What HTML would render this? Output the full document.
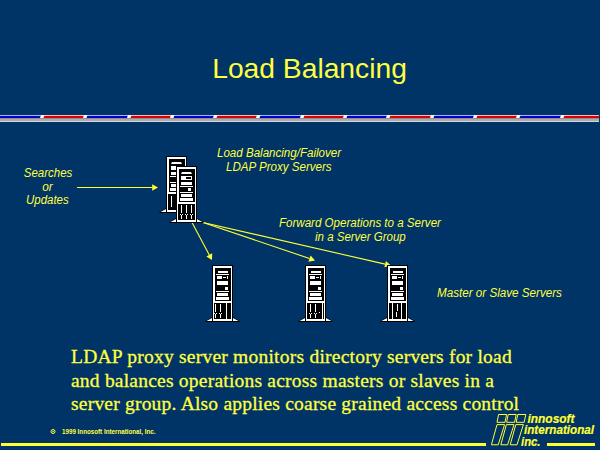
<!DOCTYPE html>
<html><head><meta charset="utf-8"><title>Load Balancing</title>
<style>html,body{margin:0;padding:0;background:#003366;width:600px;height:450px;overflow:hidden}svg{display:block}</style>
</head><body>
<svg width="600" height="450" viewBox="0 0 600 450">
<rect width="600" height="450" fill="#003366"/>
<text x="212.2" y="78" textLength="194.67" lengthAdjust="spacingAndGlyphs" font-family="Liberation Sans" font-size="28" fill="#ffff40">Load Balancing</text>
<rect x="0" y="118" width="599" height="1" fill="#909090"/>
<rect x="0" y="119" width="599" height="2" fill="#acacac"/>
<rect x="0" y="121" width="599" height="1" fill="#d4d8dc"/>
<rect x="0.0" y="116" width="42.0" height="2" fill="#0000c8"/>
<rect x="0.0" y="115" width="42.0" height="1" fill="#a8b0ff"/>
<rect x="42.0" y="116" width="43.0" height="2" fill="#d80000"/>
<rect x="42.0" y="115" width="43.0" height="1" fill="#ffb8b8"/>
<rect x="85.0" y="116" width="44.0" height="2" fill="#0000c8"/>
<rect x="85.0" y="115" width="44.0" height="1" fill="#a8b0ff"/>
<rect x="129.0" y="116" width="43.0" height="2" fill="#d80000"/>
<rect x="129.0" y="115" width="43.0" height="1" fill="#ffb8b8"/>
<rect x="172.0" y="116" width="43.0" height="2" fill="#0000c8"/>
<rect x="172.0" y="115" width="43.0" height="1" fill="#a8b0ff"/>
<rect x="215.0" y="116" width="43.0" height="2" fill="#d80000"/>
<rect x="215.0" y="115" width="43.0" height="1" fill="#ffb8b8"/>
<rect x="258.0" y="116" width="44.0" height="2" fill="#0000c8"/>
<rect x="258.0" y="115" width="44.0" height="1" fill="#a8b0ff"/>
<rect x="302.0" y="116" width="43.0" height="2" fill="#d80000"/>
<rect x="302.0" y="115" width="43.0" height="1" fill="#ffb8b8"/>
<rect x="345.0" y="116" width="43.0" height="2" fill="#0000c8"/>
<rect x="345.0" y="115" width="43.0" height="1" fill="#a8b0ff"/>
<rect x="388.0" y="116" width="44.0" height="2" fill="#d80000"/>
<rect x="388.0" y="115" width="44.0" height="1" fill="#ffb8b8"/>
<rect x="432.0" y="116" width="43.0" height="2" fill="#0000c8"/>
<rect x="432.0" y="115" width="43.0" height="1" fill="#a8b0ff"/>
<rect x="475.0" y="116" width="43.0" height="2" fill="#d80000"/>
<rect x="475.0" y="115" width="43.0" height="1" fill="#ffb8b8"/>
<rect x="518.0" y="116" width="44.0" height="2" fill="#0000c8"/>
<rect x="518.0" y="115" width="44.0" height="1" fill="#a8b0ff"/>
<rect x="562.0" y="116" width="37.0" height="2" fill="#d80000"/>
<rect x="562.0" y="115" width="37.0" height="1" fill="#ffb8b8"/>
<polygon points="40.0,118 41.0,115 44.5,115 43.5,118" fill="#ffffff"/>
<polygon points="83.0,118 84.0,115 87.5,115 86.5,118" fill="#ffffff"/>
<polygon points="127.0,118 128.0,115 131.5,115 130.5,118" fill="#ffffff"/>
<polygon points="170.0,118 171.0,115 174.5,115 173.5,118" fill="#ffffff"/>
<polygon points="213.0,118 214.0,115 217.5,115 216.5,118" fill="#ffffff"/>
<polygon points="256.0,118 257.0,115 260.5,115 259.5,118" fill="#ffffff"/>
<polygon points="300.0,118 301.0,115 304.5,115 303.5,118" fill="#ffffff"/>
<polygon points="343.0,118 344.0,115 347.5,115 346.5,118" fill="#ffffff"/>
<polygon points="386.0,118 387.0,115 390.5,115 389.5,118" fill="#ffffff"/>
<polygon points="430.0,118 431.0,115 434.5,115 433.5,118" fill="#ffffff"/>
<polygon points="473.0,118 474.0,115 477.5,115 476.5,118" fill="#ffffff"/>
<polygon points="516.0,118 517.0,115 520.5,115 519.5,118" fill="#ffffff"/>
<polygon points="560.0,118 561.0,115 564.5,115 563.5,118" fill="#ffffff"/>
<text x="217" y="157" textLength="124.0" lengthAdjust="spacingAndGlyphs" font-family="Liberation Sans" font-style="italic" font-size="12" fill="#ffff40">Load Balancing/Failover</text>
<text x="226" y="170.7" textLength="105.59" lengthAdjust="spacingAndGlyphs" font-family="Liberation Sans" font-style="italic" font-size="12" fill="#ffff40">LDAP Proxy Servers</text>
<text x="23.8" y="177.1" textLength="48.48" lengthAdjust="spacingAndGlyphs" font-family="Liberation Sans" font-style="italic" font-size="12" fill="#ffff40">Searches</text>
<text x="42.2" y="191.2" textLength="10.5" lengthAdjust="spacingAndGlyphs" font-family="Liberation Sans" font-style="italic" font-size="12" fill="#ffff40">or</text>
<text x="26" y="204.3" textLength="42.67" lengthAdjust="spacingAndGlyphs" font-family="Liberation Sans" font-style="italic" font-size="12" fill="#ffff40">Updates</text>
<text x="279" y="227" textLength="161.92" lengthAdjust="spacingAndGlyphs" font-family="Liberation Sans" font-style="italic" font-size="12" fill="#ffff40">Forward Operations to a Server</text>
<text x="315" y="240.75" textLength="90.73" lengthAdjust="spacingAndGlyphs" font-family="Liberation Sans" font-style="italic" font-size="12" fill="#ffff40">in a Server Group</text>
<text x="437" y="296.5" textLength="124.93" lengthAdjust="spacingAndGlyphs" font-family="Liberation Sans" font-style="italic" font-size="12" fill="#ffff40">Master or Slave Servers</text>
<line x1="77" y1="187.5" x2="152.2" y2="187.5" stroke="#ffff33" stroke-width="1.1"/><polygon points="158.0,187.5 152.2,190.8 152.2,184.2" fill="#ffff33"/>
<line x1="192" y1="222.5" x2="209.3" y2="254.9" stroke="#ffff33" stroke-width="1.1"/><polygon points="212.0,260.0 206.4,256.4 212.2,253.3" fill="#ffff33"/>
<line x1="203" y1="222.5" x2="309.5" y2="258.5" stroke="#ffff33" stroke-width="1.1"/><polygon points="315.0,260.4 308.4,261.7 310.6,255.4" fill="#ffff33"/>
<line x1="203" y1="222.5" x2="385.1" y2="264.1" stroke="#ffff33" stroke-width="1.1"/><polygon points="390.8,265.4 384.4,267.3 385.9,260.9" fill="#ffff33"/>
<g transform="translate(167,157)">
<polygon points="0,50.5 -7.5,55 -7.5,56 0,56" fill="#000"/>
<polygon points="19,50.5 26.5,55 26.5,56 19,56" fill="#000"/>
<polygon points="0,51.5 -6.5,55 0,55" fill="#fff"/>
<polygon points="19,51.5 25.5,55 19,55" fill="#fff"/>
<rect x="-1" y="-1" width="21" height="57" fill="#000"/>
<rect x="0" y="0" width="19" height="55" fill="#fff"/>
<rect x="2" y="2" width="16" height="33" fill="#000"/>
<polygon points="4,7 5,5 14,5 15,7" fill="#fff"/>
<rect x="4" y="9" width="11" height="4" fill="#fff"/>
<rect x="9" y="10" width="5" height="2" fill="#000"/>
<rect x="4" y="15" width="11" height="3" fill="#fff"/>
<rect x="3" y="19" width="13" height="1" fill="#fff"/>
<rect x="11" y="21" width="3" height="3" fill="#fff"/>
<rect x="3" y="25" width="13" height="1" fill="#fff"/>
<rect x="4" y="27" width="11" height="3" fill="#fff"/>
<rect x="3" y="31" width="13" height="3" fill="#fff"/>
<rect x="1" y="37" width="12" height="16" fill="#000"/>
<rect x="4" y="39" width="1" height="11" fill="#fff"/>
</g>
<g transform="translate(177,167)">
<polygon points="0,50.5 -7.5,55 -7.5,56 0,56" fill="#000"/>
<polygon points="19,50.5 26.5,55 26.5,56 19,56" fill="#000"/>
<polygon points="0,51.5 -6.5,55 0,55" fill="#fff"/>
<polygon points="19,51.5 25.5,55 19,55" fill="#fff"/>
<rect x="-1" y="-1" width="21" height="57" fill="#000"/>
<rect x="0" y="0" width="19" height="55" fill="#fff"/>
<rect x="2" y="2" width="16" height="33" fill="#000"/>
<polygon points="4,7 5,5 14,5 15,7" fill="#fff"/>
<rect x="4" y="9" width="11" height="4" fill="#fff"/>
<rect x="9" y="10" width="5" height="2" fill="#000"/>
<rect x="4" y="15" width="11" height="3" fill="#fff"/>
<rect x="3" y="19" width="13" height="1" fill="#fff"/>
<rect x="11" y="21" width="3" height="3" fill="#fff"/>
<rect x="3" y="25" width="13" height="1" fill="#fff"/>
<rect x="4" y="27" width="11" height="3" fill="#fff"/>
<rect x="3" y="31" width="13" height="3" fill="#fff"/>
<rect x="1" y="37" width="17" height="16" fill="#000"/>
<rect x="4" y="38" width="1" height="8" fill="#fff"/>
<rect x="3" y="47" width="1" height="1" fill="#fff"/>
<rect x="5" y="47" width="1" height="1" fill="#fff"/>
<rect x="4" y="48" width="1" height="4" fill="#fff"/>
<rect x="9" y="38" width="1" height="8" fill="#fff"/>
<rect x="8" y="47" width="1" height="1" fill="#fff"/>
<rect x="10" y="47" width="1" height="1" fill="#fff"/>
<rect x="9" y="48" width="1" height="4" fill="#fff"/>
<rect x="14" y="38" width="1" height="8" fill="#fff"/>
<rect x="13" y="47" width="1" height="1" fill="#fff"/>
<rect x="15" y="47" width="1" height="1" fill="#fff"/>
<rect x="14" y="48" width="1" height="4" fill="#fff"/>
</g>
<g transform="translate(213,266)">
<polygon points="0,50.5 -7.5,55 -7.5,56 0,56" fill="#000"/>
<polygon points="19,50.5 26.5,55 26.5,56 19,56" fill="#000"/>
<polygon points="0,51.5 -6.5,55 0,55" fill="#fff"/>
<polygon points="19,51.5 25.5,55 19,55" fill="#fff"/>
<rect x="-1" y="-1" width="21" height="57" fill="#000"/>
<rect x="0" y="0" width="19" height="55" fill="#fff"/>
<rect x="2" y="2" width="16" height="33" fill="#000"/>
<rect x="5" y="5" width="10" height="2" fill="#fff"/>
<rect x="3" y="8" width="13" height="1" fill="#fff"/>
<rect x="4" y="10" width="5" height="3" fill="#fff"/>
<rect x="10" y="11" width="3" height="1" fill="#fff"/>
<rect x="14" y="10" width="1" height="3" fill="#fff"/>
<rect x="4" y="15" width="11" height="4" fill="#fff"/>
<rect x="12" y="21" width="3" height="3" fill="#fff"/>
<rect x="3" y="25" width="13" height="1" fill="#fff"/>
<rect x="4" y="27" width="11" height="3" fill="#fff"/>
<rect x="3" y="31" width="13" height="3" fill="#fff"/>
<rect x="1" y="37" width="12" height="16" fill="#000"/>
<rect x="14" y="37" width="4" height="16" fill="#000"/>
<rect x="2" y="38" width="1" height="8" fill="#fff"/>
<rect x="1" y="47" width="1" height="1" fill="#fff"/>
<rect x="3" y="47" width="1" height="1" fill="#fff"/>
<rect x="2" y="48" width="1" height="4" fill="#fff"/>
<rect x="7" y="38" width="1" height="8" fill="#fff"/>
<rect x="6" y="47" width="1" height="1" fill="#fff"/>
<rect x="8" y="47" width="1" height="1" fill="#fff"/>
<rect x="7" y="48" width="1" height="4" fill="#fff"/>
</g>
<g transform="translate(306,266)">
<polygon points="0,50.5 -7.5,55 -7.5,56 0,56" fill="#000"/>
<polygon points="19,50.5 26.5,55 26.5,56 19,56" fill="#000"/>
<polygon points="0,51.5 -6.5,55 0,55" fill="#fff"/>
<polygon points="19,51.5 25.5,55 19,55" fill="#fff"/>
<rect x="-1" y="-1" width="21" height="57" fill="#000"/>
<rect x="0" y="0" width="19" height="55" fill="#fff"/>
<rect x="2" y="2" width="16" height="33" fill="#000"/>
<rect x="5" y="5" width="10" height="2" fill="#fff"/>
<rect x="3" y="8" width="13" height="1" fill="#fff"/>
<rect x="4" y="10" width="5" height="3" fill="#fff"/>
<rect x="10" y="11" width="3" height="1" fill="#fff"/>
<rect x="14" y="10" width="1" height="3" fill="#fff"/>
<rect x="4" y="15" width="11" height="4" fill="#fff"/>
<rect x="12" y="21" width="3" height="3" fill="#fff"/>
<rect x="3" y="25" width="13" height="1" fill="#fff"/>
<rect x="4" y="27" width="11" height="3" fill="#fff"/>
<rect x="3" y="31" width="13" height="3" fill="#fff"/>
<rect x="1" y="37" width="15" height="16" fill="#000"/>
<rect x="17" y="37" width="1" height="16" fill="#000"/>
<rect x="4" y="38" width="1" height="8" fill="#fff"/>
<rect x="3" y="47" width="1" height="1" fill="#fff"/>
<rect x="5" y="47" width="1" height="1" fill="#fff"/>
<rect x="4" y="48" width="1" height="4" fill="#fff"/>
<rect x="9" y="38" width="1" height="8" fill="#fff"/>
<rect x="8" y="47" width="1" height="1" fill="#fff"/>
<rect x="10" y="47" width="1" height="1" fill="#fff"/>
<rect x="9" y="48" width="1" height="4" fill="#fff"/>
<rect x="13" y="46" width="1" height="1" fill="#fff"/>
</g>
<g transform="translate(388,266)">
<polygon points="0,50.5 -7.5,55 -7.5,56 0,56" fill="#000"/>
<polygon points="19,50.5 26.5,55 26.5,56 19,56" fill="#000"/>
<polygon points="0,51.5 -6.5,55 0,55" fill="#fff"/>
<polygon points="19,51.5 25.5,55 19,55" fill="#fff"/>
<rect x="-1" y="-1" width="21" height="57" fill="#000"/>
<rect x="0" y="0" width="19" height="55" fill="#fff"/>
<rect x="2" y="2" width="16" height="33" fill="#000"/>
<rect x="5" y="5" width="10" height="2" fill="#fff"/>
<rect x="3" y="8" width="13" height="1" fill="#fff"/>
<rect x="4" y="10" width="5" height="3" fill="#fff"/>
<rect x="10" y="11" width="3" height="1" fill="#fff"/>
<rect x="14" y="10" width="1" height="3" fill="#fff"/>
<rect x="4" y="15" width="11" height="4" fill="#fff"/>
<rect x="12" y="21" width="3" height="3" fill="#fff"/>
<rect x="3" y="25" width="13" height="1" fill="#fff"/>
<rect x="4" y="27" width="11" height="3" fill="#fff"/>
<rect x="3" y="31" width="13" height="3" fill="#fff"/>
<rect x="1" y="37" width="3" height="16" fill="#000"/>
<rect x="5" y="37" width="8" height="16" fill="#000"/>
<rect x="14" y="37" width="4" height="16" fill="#000"/>
<rect x="9" y="38" width="1" height="7" fill="#fff"/>
<rect x="8" y="46" width="1" height="5" fill="#fff"/>
</g>
<text x="71" y="363" textLength="440.7" font-family="Liberation Serif" font-size="19.5" fill="#ffff40" stroke="#ffff40" stroke-width="0.3" lengthAdjust="spacing">LDAP proxy server monitors directory servers for load</text>
<text x="71" y="386.7" textLength="422.89" font-family="Liberation Serif" font-size="19.5" fill="#ffff40" stroke="#ffff40" stroke-width="0.3" lengthAdjust="spacing">and balances operations across masters or slaves in a</text>
<text x="71" y="410.4" textLength="448.03" font-family="Liberation Serif" font-size="19.5" fill="#ffff40" stroke="#ffff40" stroke-width="0.3" lengthAdjust="spacing">server group. Also applies coarse grained access control</text>
<circle cx="53" cy="431.5" r="2" fill="none" stroke="#ffff40" stroke-width="1"/><rect x="52.3" y="430.8" width="1.4" height="1.4" fill="#ffff40"/>
<text x="62" y="434" font-family="Liberation Sans" font-weight="bold" font-size="7" fill="#ffff40" textLength="93.5" lengthAdjust="spacingAndGlyphs">1999 Innosoft International, Inc.</text>
<rect x="1" y="443" width="485" height="3" fill="#ffff33"/>
<rect x="547" y="443" width="48" height="3" fill="#ffff33"/>
<polygon points="498.6,414.5 506.6,414.5 505.0,422.3 497.0,422.3" fill="none" stroke="#ffff33" stroke-width="1" stroke-linejoin="round"/>
<polygon points="508.20000000000005,414.5 516.2,414.5 514.6,422.3 506.6,422.3" fill="none" stroke="#ffff33" stroke-width="1" stroke-linejoin="round"/>
<polygon points="517.8000000000001,414.5 525.8000000000001,414.5 524.2,422.3 516.2,422.3" fill="none" stroke="#ffff33" stroke-width="1" stroke-linejoin="round"/>
<polygon points="497.0,424.6 504.6,424.6 498.2,444.8 491.4,444.8" fill="none" stroke="#ffff33" stroke-width="1" stroke-linejoin="round"/>
<polygon points="506.4,424.6 514.0,424.6 507.59999999999997,444.8 500.79999999999995,444.8" fill="none" stroke="#ffff33" stroke-width="1" stroke-linejoin="round"/>
<polygon points="515.8,424.6 523.4,424.6 517.0,444.8 510.2,444.8" fill="none" stroke="#ffff33" stroke-width="1" stroke-linejoin="round"/>
<text x="527.5" y="422.7" textLength="47" font-family="Liberation Sans" font-weight="bold" font-style="italic" font-size="12.5" fill="#ffff33" stroke="#ffff33" stroke-width="0.2" lengthAdjust="spacingAndGlyphs">innosoft</text>
<text x="524" y="433.6" textLength="70" font-family="Liberation Sans" font-weight="bold" font-style="italic" font-size="12.5" fill="#ffff33" stroke="#ffff33" stroke-width="0.2" lengthAdjust="spacingAndGlyphs">international</text>
<text x="521" y="445.6" textLength="19.5" font-family="Liberation Sans" font-weight="bold" font-style="italic" font-size="12.5" fill="#ffff33" stroke="#ffff33" stroke-width="0.2" lengthAdjust="spacingAndGlyphs">inc.</text>
</svg>
</body></html>
